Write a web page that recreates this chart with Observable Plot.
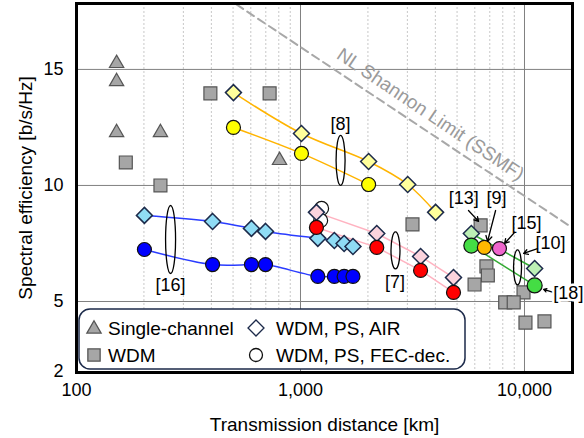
<!DOCTYPE html>
<html><head><meta charset="utf-8">
<script src="https://cdn.jsdelivr.net/npm/d3@7"></script>
<script src="https://cdn.jsdelivr.net/npm/@observablehq/plot@0.6"></script>
<style>html,body{margin:0;padding:0;background:#fff}</style>
</head><body><div id="chart"></div>
<script>
const FONT = "'Liberation Sans', Arial, Helvetica, sans-serif";

// ---- data (distance km, spectral efficiency b/s/Hz) ----
const singleX = [151, 151, 151, 237, 806];
const singleY = [15.26, 14.48, 12.28, 12.28, 11.08];

const wdmX = [166, 237, 396, 728, 3162, 6370, 6760, 6860, 5985, 9900, 8200, 8950, 10100, 12280];
const wdmY = [10.99, 10.0, 13.97, 13.97, 8.32, 8.28, 6.51, 6.12, 5.73, 5.39, 4.96, 4.96, 4.09, 4.14];

// [16] blue
const ref16X = [201, 405, 604, 698, 1195, 1416, 1566, 1715];
const ref16Air = [8.71, 8.45, 8.15, 8.02, 7.72, 7.63, 7.50, 7.37];
const ref16Fec = [7.24, 6.59, 6.59, 6.59, 6.08, 6.08, 6.08, 6.08];

// [7] pink / red
const ref7X = [1178, 2190, 3436, 4820];
const ref7Air = [8.84, 7.93, 6.94, 6.03];
const ref7Fec = [8.19, 7.33, 6.34, 5.39];
const openX = [1242, 1230];
const openY = [9.01, 8.49];

// [8] yellow
const ref8AirX = [502, 1010, 2014, 3010, 4010];
const ref8Air = [14.0, 12.24, 11.03, 10.04, 8.84];
const ref8FecX = [502, 1010, 2014];
const ref8Fec = [12.5, 11.38, 10.04];

// [10]/[18]/[13] green
const refGX = [5790, 11100];
const refGAir = [7.93, 6.42];
const refGFec = [7.41, 5.69];

// [9] orange, [15] magenta
const ref9X = [6620], ref9Y = [7.33];
const ref15X = [7730], ref15Y = [7.28];

// NL Shannon limit
const nlX = [517.6, 16380];
const nlY = [17.8, 8.17];
const nlLabel = "NL Shannon Limit (SSMF)";
const nlLabelX = 3802, nlLabelY = 13.06;

// reference labels
const refLabels = ["[8]", "[16]", "[7]", "[13]", "[9]", "[15]", "[10]"];
const refLabelX = [1510, 263, 2640, 5350, 7500, 10200, 13060];
const refLabelY = [12.63, 5.72, 5.82, 9.44, 9.44, 8.36, 7.5];
const edgeLabel = "[18]", edgeLabelX = 15700, edgeLabelY = 5.34;

// arrows [13],[9],[15],[10],[18]
const arrX1 = [5623, 7430, 9020, 11430, 13450];
const arrY1 = [8.92, 8.92, 7.97, 7.28, 5.39];
const arrX2 = [6237, 6840, 8150, 9910, 12170];
const arrY2 = [8.45, 7.59, 7.5, 7.07, 5.52];

// ellipses [8],[16],[7],[10]
const ellX = [1510, 263, 2655, 9310];
const ellY = [11.08, 7.67, 7.2, 6.47];

// axes
const xTicks = [100, 1000, 10000];
const xTickLabels = ["100", "1,000", "10,000"];
const xMinor = [200,300,400,500,600,700,800,900,2000,3000,4000,5000,6000,7000,8000,9000];
const yTicks = [2, 5, 10, 15];
const yGrid = [5, 10, 15];
const xTitle = "Transmission distance [km]";
const yTitle = "Spectral efficiency [b/s/Hz]";

const legendItems = ["Single-channel", "WDM", "WDM, PS, AIR", "WDM, PS, FEC-dec."];

// ---- helpers ----
const pts = (xs, ys) => xs.map((x, i) => ({x, y: ys[i]}));
function ellipseSymbol(rx, ry) {
  const k = 0.5523;
  return {draw(ctx) {
    ctx.moveTo(rx, 0);
    ctx.bezierCurveTo(rx, ry*k, rx*k, ry, 0, ry);
    ctx.bezierCurveTo(-rx*k, ry, -rx, ry*k, -rx, 0);
    ctx.bezierCurveTo(-rx, -ry*k, -rx*k, -ry, 0, -ry);
    ctx.bezierCurveTo(rx*k, -ry, rx, -ry*k, rx, 0);
    ctx.closePath();
  }};
}
const ellSizes = [[4.5, 25], [5, 34], [4.5, 18.5], [4, 17.5]];

const NAVY = "#1c2a4a";
const diamond = (data, fill) => Plot.dot(data, {x: "x", y: "y", symbol: "diamond2", r: 7.2, fill, stroke: NAVY, strokeWidth: 1.5});
const circle = (data, fill, r = 7) => Plot.dot(data, {x: "x", y: "y", symbol: "circle", r, fill, stroke: "#111", strokeWidth: 1.2});
const line = (data, stroke, curve = "catmull-rom") => Plot.line(data, {x: "x", y: "y", stroke, strokeWidth: 1.5, curve});

const plot = Plot.plot({
  width: 584, height: 438,
  marginTop: 3, marginRight: 12, marginBottom: 66, marginLeft: 76,
  style: {fontFamily: FONT, fontSize: "18px", background: "#fff", color: "#000", overflow: "visible"},
  x: {type: "log", domain: [100, 16380], axis: null},
  y: {domain: [1.94, 17.84], axis: null},
  marks: [
    Plot.ruleX(xMinor, {stroke: "#c8c8c8", strokeDasharray: "2,2", strokeWidth: 1}),
    Plot.ruleX(xTicks.slice(1), {stroke: "#808080", strokeWidth: 1}),
    Plot.ruleY(yGrid, {stroke: "#808080", strokeWidth: 1}),
    Plot.line(pts(nlX, nlY), {x: "x", y: "y", stroke: "#a8a8a8", strokeWidth: 2, strokeDasharray: "8,5", clip: true}),
    Plot.text([nlLabel], {x: [nlLabelX], y: [nlLabelY], text: d => d, rotate: 34, fill: "#9a9a9a", fontSize: 19}),
    // single-channel & WDM
    Plot.dot(pts(wdmX, wdmY), {x: "x", y: "y", symbol: "square", r: 7.3, fill: "#a6a6a6", stroke: "#555", strokeWidth: 1.2}),
    Plot.dot(pts(singleX, singleY), {x: "x", y: "y", symbol: "triangle", r: 5.3, fill: "#a6a6a6", stroke: "#555", strokeWidth: 1.2}),
    // lines
    line(pts(ref16X, ref16Air), "#2a3cff"),
    line(pts(ref16X, ref16Fec), "#2a3cff"),
    line(pts(ref7X, ref7Air), "#ffb3c1", "linear"),
    line(pts(ref7X, ref7Fec), "#ffb3c1", "linear"),
    line(pts(ref8AirX, ref8Air), "#ffb400"),
    line(pts(ref8FecX, ref8Fec), "#ffb400"),
    line(pts(refGX, refGAir), "#33aa33", "linear"),
    line(pts(refGX, refGFec), "#33aa33", "linear"),
    // markers
    circle(pts(openX, openY), "#fff"),
    diamond(pts(ref16X, ref16Air), "#8fdcf5"),
    circle(pts(ref16X, ref16Fec), "#0000ff"),
    diamond(pts(ref7X, ref7Air), "#fbd3dd"),
    circle(pts(ref7X, ref7Fec), "#ff0000"),
    diamond(pts(ref8AirX, ref8Air), "#ffff9c"),
    circle(pts(ref8FecX, ref8Fec), "#ffff00"),
    diamond(pts(refGX, refGAir), "#bdf0b5"),
    circle(pts(refGX, refGFec), "#44dd44", 7.5),
    circle(pts(ref9X, ref9Y), "#ffb800"),
    circle(pts(ref15X, ref15Y), "#ee66cc"),
    // ellipses
    ...ellX.map((x, i) => Plot.dot([{x, y: ellY[i]}], {x: "x", y: "y", symbol: ellipseSymbol(...ellSizes[i]), fill: "none", stroke: "#000", strokeWidth: 1.3})),
    // annotations
    Plot.arrow(arrX1.map((x1, i) => ({x1, y1: arrY1[i], x2: arrX2[i], y2: arrY2[i]})), {x1: "x1", y1: "y1", x2: "x2", y2: "y2", stroke: "#000", strokeWidth: 1.3, headLength: 7}),
    Plot.text(refLabels, {x: (d, i) => refLabelX[i], y: (d, i) => refLabelY[i], text: d => d, fontSize: 18, fill: "#000"}),
    // tick labels
    Plot.text(yTicks, {y: d => d, frameAnchor: "left", dx: -13, textAnchor: "end", text: d => String(d), fontSize: 18}),
    Plot.text(xTicks, {x: d => d, frameAnchor: "bottom", dy: 23, textAnchor: "middle", text: (d, i) => xTickLabels[i], fontSize: 18}),
    Plot.text([xTitle], {frameAnchor: "bottom", dy: 58, textAnchor: "middle", text: d => d, fontSize: 19}),
    Plot.text([yTitle], {frameAnchor: "left", dx: -51, rotate: -90, textAnchor: "middle", text: d => d, fontSize: 19}),
    Plot.frame({stroke: "#000", strokeWidth: 3}),
    Plot.text([edgeLabel], {x: [edgeLabelX], y: [edgeLabelY], text: d => d, fontSize: 18, fill: "#000", stroke: "#fff", strokeWidth: 5, paintOrder: "stroke"})
  ]
});

document.getElementById("chart").appendChild(plot);

// ---- legend inside the plot (bottom-left) ----
const svg = d3.select(plot);
const lg = svg.append("g").attr("font-family", FONT).attr("font-size", 19).attr("text-anchor", "start");
lg.append("rect").attr("x", 79).attr("y", 309).attr("width", 386).attr("height", 60)
  .attr("rx", 11).attr("fill", "#fff").attr("stroke", NAVY).attr("stroke-width", 1.5);
const sym = (type, size) => d3.symbol(type, size)();
const legendSyms = [
  {p: sym(d3.symbolTriangle, Math.PI * 5.3 * 5.3), x: 94, y: 329, fill: "#a6a6a6", stroke: "#555"},
  {p: sym(d3.symbolSquare, Math.PI * 7.3 * 7.3 * 0.9), x: 94, y: 355, fill: "#a6a6a6", stroke: "#555"},
  {p: sym(d3.symbolDiamond2, Math.PI * 7.2 * 7.2), x: 256, y: 328, fill: "#fff", stroke: NAVY},
  {p: sym(d3.symbolCircle, Math.PI * 6.5 * 6.5), x: 256, y: 355, fill: "#fff", stroke: "#111"}
];
legendSyms.forEach(s => lg.append("path").attr("d", s.p).attr("transform", `translate(${s.x},${s.y})`)
  .attr("fill", s.fill).attr("stroke", s.stroke).attr("stroke-width", 1.3));
const legendPos = [[108, 328], [108, 355], [276, 328], [276, 355]];
legendItems.forEach((t, i) => lg.append("text").attr("x", legendPos[i][0]).attr("y", legendPos[i][1])
  .attr("dy", "0.35em").attr("text-anchor", "start").attr("fill", "#000").text(t));
</script>
</body></html>
